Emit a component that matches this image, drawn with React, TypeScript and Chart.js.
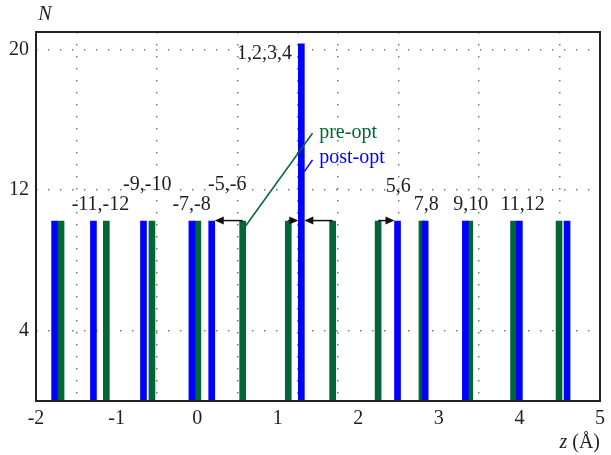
import React, { useEffect, useRef } from "react";
import { Chart, registerables } from "chart.js";

Chart.register(...registerables);

// ---- data ----
const preOptZ = [-1.689, -1.127, -0.561, 0.009, 0.565, 1.131, 1.682, 2.246, 2.79, 3.384, 3.927, 4.492];
const preOptN = [10.24, 10.24, 10.24, 10.24, 10.24, 10.24, 10.24, 10.24, 10.24, 10.24, 10.24, 10.24];
const postOptZ = [-1.769, -1.287, -0.666, -0.065, 0.181, 1.293, 2.487, 2.83, 3.329, 3.999, 4.591];
const postOptN = [10.24, 10.24, 10.24, 10.24, 10.24, 20.32, 10.24, 10.24, 10.24, 10.24, 10.24];

const xTickValues = [-2, -1, 0, 1, 1.5, 2, 3, 4, 5];
const yTickValues = [4, 12, 20];

// atom-index annotations (text, z, N)
const groupLabels = ["-11,-12", "-9,-10", "-7,-8", "-5,-6", "1,2,3,4", "5,6", "7,8", "9,10", "11,12"];
const groupLabelZ = [-1.2, -0.619, -0.069, 0.374, 0.835, 2.496, 2.842, 3.395, 4.04];
const groupLabelN = [11.16, 12.29, 11.16, 12.29, 19.79, 12.18, 11.16, 11.16, 11.16];

// displacement arrows (from pre-opt z to post-opt z, at height N)
const arrowFromZ = [0.565, 1.131, 1.682, 2.246];
const arrowToZ = [0.181, 1.293, 1.293, 2.487];
const arrowN = 10.24;

const GREEN = "#006633";
const BLUE = "#0000ff";
const FONT = "'Liberation Serif', 'DejaVu Serif', serif";
const TEXT = "#1e1e1e";

const annotationPlugin = {
  id: "annotations",
  afterDatasetsDraw(chart: any) {
    const { ctx, chartArea, scales } = chart;
    const xs = scales.x;
    const ys = scales.y;
    const px = (v: number) => xs.getPixelForValue(v);
    const py = (v: number) => ys.getPixelForValue(v);
    ctx.save();

    // arrows
    ctx.strokeStyle = "#111";
    ctx.fillStyle = "#111";
    ctx.lineWidth = 1.5;
    for (let i = 0; i < arrowFromZ.length; i++) {
      const x1 = px(arrowFromZ[i]);
      const dir = arrowToZ[i] > arrowFromZ[i] ? 1 : -1;
      const x2 = px(arrowToZ[i]) - dir * 3;
      const y = py(arrowN) - 0.5;
      ctx.beginPath();
      ctx.moveTo(x1, y);
      ctx.lineTo(x2 - dir * 6, y);
      ctx.stroke();
      ctx.beginPath();
      ctx.moveTo(x2, y);
      ctx.lineTo(x2 - dir * 9, y - 4);
      ctx.lineTo(x2 - dir * 9, y + 4);
      ctx.closePath();
      ctx.fill();
    }

    // leader lines
    ctx.lineWidth = 1.5;
    ctx.strokeStyle = GREEN;
    ctx.beginPath();
    ctx.moveTo(px(0.592), py(9.9));
    ctx.lineTo(px(1.432), py(15.24));
    ctx.stroke();
    ctx.strokeStyle = BLUE;
    ctx.beginPath();
    ctx.moveTo(px(1.33), py(13.05));
    ctx.lineTo(px(1.432), py(13.72));
    ctx.stroke();

    // texts
    ctx.font = `20px ${FONT}`;
    ctx.textBaseline = "middle";
    ctx.textAlign = "left";
    ctx.fillStyle = GREEN;
    ctx.fillText("pre-opt", px(1.515), py(15.24));
    ctx.fillStyle = BLUE;
    ctx.fillText("post-opt", px(1.515), py(13.85));

    ctx.fillStyle = TEXT;
    ctx.textAlign = "center";
    for (let i = 0; i < groupLabels.length; i++) {
      ctx.fillText(groupLabels[i], px(groupLabelZ[i]), py(groupLabelN[i]));
    }

    // frame
    ctx.strokeStyle = "#222";
    ctx.lineWidth = 2;
    ctx.strokeRect(chartArea.left, chartArea.top, chartArea.right - chartArea.left, chartArea.bottom - chartArea.top);

    // axis titles
    ctx.fillStyle = TEXT;
    ctx.textAlign = "center";
    ctx.font = `italic 20px ${FONT}`;
    ctx.fillText("N", chartArea.left + 9, chartArea.top - 17);

    ctx.textAlign = "left";
    ctx.textBaseline = "alphabetic";
    const y0 = chartArea.bottom + 47;
    ctx.font = `20px ${FONT}`;
    const rest = " (Å)";
    const wRest = ctx.measureText(rest).width;
    ctx.font = `italic 20px ${FONT}`;
    const wZ = ctx.measureText("z").width;
    const startX = chartArea.right - wRest - wZ;
    ctx.fillText("z", startX, y0);
    ctx.font = `20px ${FONT}`;
    ctx.fillText(rest, startX + wZ, y0);

    ctx.restore();
  },
};

export default function App() {
  const ref = useRef<HTMLCanvasElement | null>(null);
  useEffect(() => {
    if (!ref.current) return;
    const chart = new Chart(ref.current, {
      type: "bar",
      data: {
        datasets: [
          {
            label: "pre-opt",
            data: preOptZ.map((z, i) => ({ x: z, y: preOptN[i] })),
            backgroundColor: GREEN,
            barThickness: 6,
            order: 2,
          },
          {
            label: "post-opt",
            data: postOptZ.map((z, i) => ({ x: z, y: postOptN[i] })),
            backgroundColor: BLUE,
            barThickness: 6,
            order: 1,
          },
        ],
      },
      options: {
        responsive: false,
        animation: false,
        devicePixelRatio: 1,
        layout: { padding: { left: 0, top: 32, right: 6, bottom: 0 } },
        plugins: { legend: { display: false }, tooltip: { enabled: false } },
        datasets: { bar: { grouped: false } } as any,
        scales: {
          x: {
            type: "linear",
            min: -2,
            max: 5,
            offset: false,
            afterBuildTicks: (scale: any) => {
              scale.ticks = xTickValues.map((v) => ({ value: v }));
            },
            afterFit: (scale: any) => {
              scale.height = 54;
            },
            ticks: {
              autoSkip: false,
              maxRotation: 0,
              padding: 6,
              color: TEXT,
              font: { family: FONT, size: 20 },
              callback: (v: any) => (v === 1.5 ? "" : String(v)),
            },
            grid: { color: "#7a7a7a", lineWidth: 1.5, drawTicks: false },
            border: { display: false, dash: [1.5, 10.5] },
          },
          y: {
            type: "linear",
            min: 0,
            max: 21,
            afterBuildTicks: (scale: any) => {
              scale.ticks = yTickValues.map((v) => ({ value: v }));
            },
            afterFit: (scale: any) => {
              scale.width = 36;
            },
            ticks: {
              autoSkip: false,
              padding: 7,
              color: TEXT,
              font: { family: FONT, size: 20 },
            },
            grid: { color: "#7a7a7a", lineWidth: 1.5, drawTicks: false },
            border: { display: false, dash: [1.5, 10.5] },
          },
        },
      },
      plugins: [annotationPlugin],
    } as any);
    return () => chart.destroy();
  }, []);
  return (
    <div style={{ position: "fixed", left: 0, top: 0, width: 611, height: 455, background: "#fff" }}>
      <canvas ref={ref} width={611} height={455} style={{ width: 611, height: 455 }} />
    </div>
  );
}
